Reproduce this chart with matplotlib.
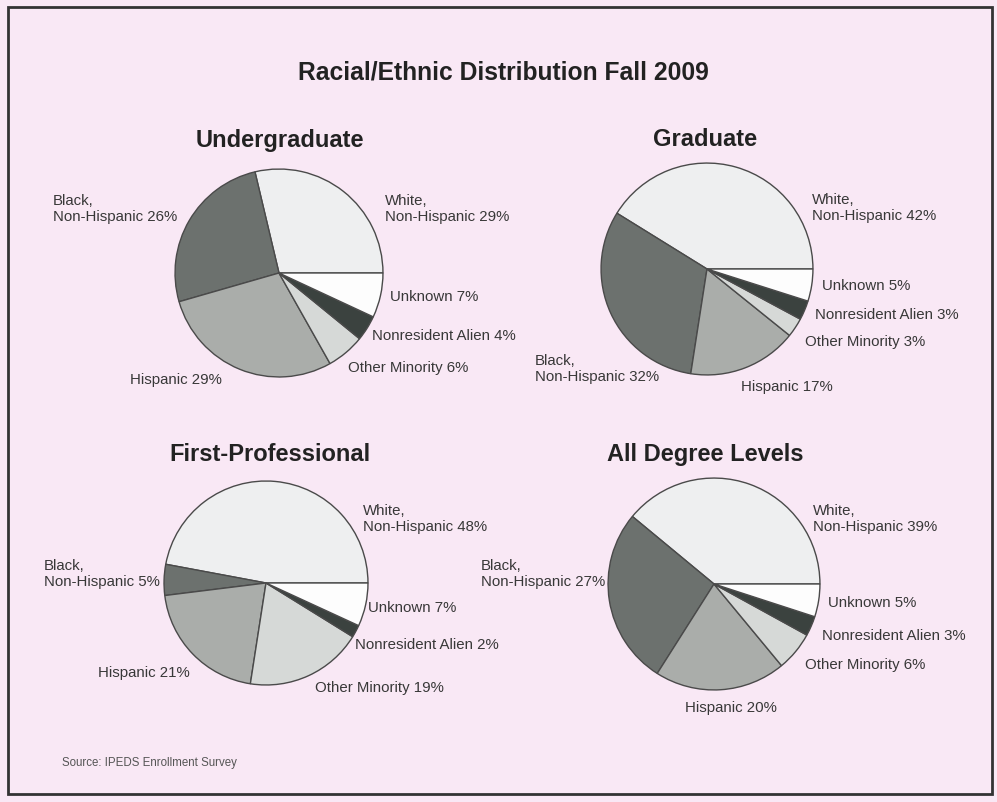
import matplotlib
matplotlib.use("Agg")
import matplotlib.pyplot as plt
from matplotlib.patches import Rectangle
from matplotlib import font_manager

# ---- data ----
categories = ["White,\nNon-Hispanic", "Black,\nNon-Hispanic", "Hispanic",
              "Other Minority", "Nonresident Alien", "Unknown"]
undergraduate = [29, 26, 29, 6, 4, 7]
graduate = [42, 32, 17, 3, 3, 5]
first_professional = [48, 5, 21, 19, 2, 7]
all_levels = [39, 27, 20, 6, 3, 5]
panel_titles = ["Undergraduate", "Graduate", "First-Professional", "All Degree Levels"]
title = "Racial/Ethnic Distribution Fall 2009"
source = "Source: IPEDS Enrollment Survey"

# ---- style ----
W, H = 997, 803
BG = "#f9e8f5"
slice_colors = ["#eeeff0", "#6c716e", "#aaadaa", "#d6d9d7", "#3b423f", "#fdfdfd"]
TXT = "#383838"
plt.rcParams["font.family"] = ["Liberation Sans", "DejaVu Sans"]

installed = {f.name for f in font_manager.fontManager.ttflist}
if "Liberation Sans Narrow" in installed:
    src_family, src_size = ["Liberation Sans Narrow", "DejaVu Sans"], 10
else:
    src_family, src_size = ["Liberation Sans", "DejaVu Sans"], 8.3

fig = plt.figure(figsize=(W / 100, H / 100), dpi=100)
fig.patch.set_facecolor(BG)

def px(x, y):
    return x / W, 1 - y / H

# border
fig.add_artist(Rectangle(px(8, 795), (992 - 8) / W, (795 - 8) / H, transform=fig.transFigure,
                         fill=False, edgecolor="#333333", linewidth=2))

fig.text(*px(503, 72), title, ha="center", va="center", fontsize=17.7, fontweight="bold", color="#222222")

# layout: pie centre (px), radius (px), title position, label positions (left x, centre y)
layouts = [
    dict(c=(279, 274), r=105, t=(280, 140),
         lab=[(385, 209), (53, 209), (130, 380), (348, 368), (372, 336), (390, 297)]),
    dict(c=(707, 270), r=107, t=(705, 140),
         lab=[(812, 208), (535, 369), (741, 387), (805, 342), (815, 315), (822, 286)]),
    dict(c=(266, 584), r=103, t=(270, 455),
         lab=[(363, 519), (44, 574), (98, 673), (315, 688), (355, 645), (368, 608)]),
    dict(c=(714, 585), r=107, t=(705, 455),
         lab=[(813, 519), (481, 574), (685, 708), (805, 665), (822, 636), (828, 603)]),
]
datasets = [undergraduate, graduate, first_professional, all_levels]

for vals, lay, ttl in zip(datasets, layouts, panel_titles):
    cx, cy = lay["c"]
    r = lay["r"]
    x0, y0 = px(cx - r, cy + r)
    ax = fig.add_axes([x0, y0, 2 * r / W, 2 * r / H])
    ax.pie(vals, colors=slice_colors, startangle=0, counterclock=True, radius=1,
           wedgeprops=dict(edgecolor="#4a4a4a", linewidth=1.0))
    ax.set_xlim(-1.01, 1.01)
    ax.set_ylim(-1.01, 1.01)
    ax.set_aspect("equal")
    ax.axis("off")
    fig.text(*px(*lay["t"]), ttl, ha="center", va="center", fontsize=17,
             fontweight="bold", color="#222222")
    for cat, v, (lx, ly) in zip(categories, vals, lay["lab"]):
        fig.text(*px(lx, ly), f"{cat} {v}%", ha="left", va="center", fontsize=10.8,
                 color=TXT, linespacing=1.25)

fig.text(*px(62, 763), source, ha="left", va="center", fontsize=src_size,
         color="#555555", family=src_family)

fig.savefig("out.png", dpi=100, facecolor=BG)
